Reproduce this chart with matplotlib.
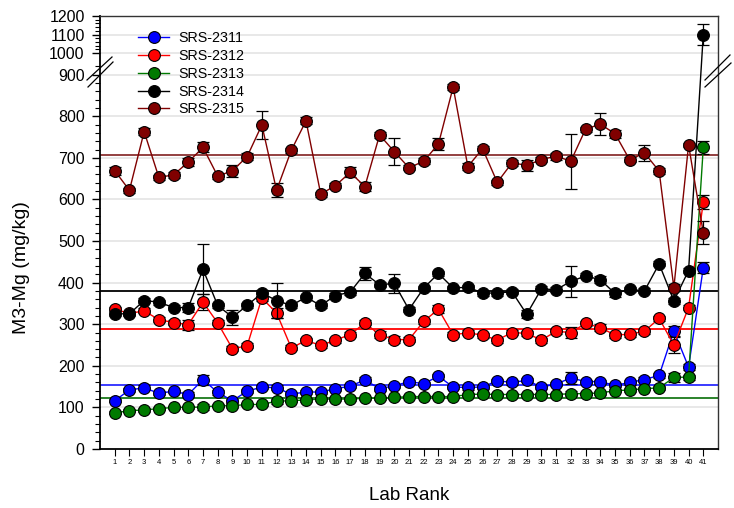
import numpy as np
import matplotlib
matplotlib.use("Agg")
import matplotlib.pyplot as plt
from matplotlib.lines import Line2D

plt.rcParams['font.family'] = ['Liberation Sans', 'DejaVu Sans']

labs = list(range(1, 42))
x_labels = [str(i) for i in labs]

names = ["SRS-2311", "SRS-2312", "SRS-2313", "SRS-2314", "SRS-2315"]
colors = ["#0000ff", "#ff0000", "#007a00", "#000000", "#800000"]
mean_colors = ["#2b2bff", "#ff0000", "#1a7a1a", "#000000", "#8a3030"]

srs2311 = [116, 142, 147, 134, 139, 131, 167, 136, 116, 139, 149, 147, 132, 137, 137, 145, 151, 166, 145, 152, 162,
           157, 175, 149, 148, 149, 164, 160, 165, 149, 156, 171, 162, 162, 153, 160, 167, 177, 284, 197, 436]
srs2312 = [336, 326, 332, 311, 304, 299, 353, 303, 241, 248, 363, 327, 243, 261, 249, 262, 275, 303, 275, 263, 263,
           307, 336, 275, 279, 274, 262, 280, 278, 262, 283, 280, 302, 292, 274, 276, 283, 314, 250, 340, 593]
srs2313 = [87, 92, 94, 97, 100, 100, 101, 104, 104, 107, 107, 115, 116, 118, 120, 120, 120, 122, 122, 124, 126,
           126, 126, 126, 131, 132, 131, 131, 131, 131, 131, 133, 133, 135, 140, 142, 145, 147, 172, 173, 725]
srs2314 = [325, 325, 357, 353, 340, 340, 432, 345, 317, 345, 375, 357, 345, 365, 345, 369, 377, 422, 395, 398, 335,
           387, 422, 387, 389, 375, 375, 378, 324, 385, 383, 403, 416, 407, 374, 384, 380, 445, 356, 429, 1100]
srs2315 = [669, 622, 763, 653, 659, 690, 725, 656, 669, 703, 779, 622, 718, 789, 613, 633, 665, 631, 755, 715, 676,
           692, 733, 870, 679, 722, 641, 688, 682, 696, 704, 692, 769, 781, 758, 695, 712, 668, 388, 731, 520]

sd2311 = [4, 5, 6, 5, 4, 6, 12, 5, 5, 5, 5, 6, 5, 5, 5, 5, 5, 6, 5, 5, 5,
          5, 6, 4, 5, 5, 5, 5, 5, 5, 5, 15, 5, 5, 5, 5, 6, 6, 12, 8, 14]
sd2312 = [6, 5, 6, 6, 6, 12, 19, 6, 6, 6, 6, 13, 6, 6, 6, 6, 6, 6, 8, 8, 6,
          6, 10, 6, 6, 6, 6, 6, 6, 6, 6, 14, 6, 8, 6, 6, 6, 6, 19, 6, 17]
sd2313 = [4, 4, 4, 4, 4, 4, 8, 4, 5, 4, 4, 6, 4, 4, 4, 4, 4, 4, 4, 4, 4,
          4, 4, 4, 4, 4, 4, 4, 4, 4, 4, 6, 4, 4, 4, 4, 4, 4, 10, 6, 15]
sd2314 = [6, 5, 6, 6, 6, 10, 60, 6, 18, 6, 8, 43, 6, 6, 6, 6, 6, 16, 6, 22, 6,
          6, 6, 6, 6, 6, 6, 6, 10, 6, 6, 38, 6, 8, 8, 6, 6, 6, 8, 6, 58]
sd2315 = [10, 6, 8, 6, 7, 10, 12, 6, 14, 8, 33, 17, 6, 8, 6, 6, 12, 10, 8, 33, 6,
          7, 14, 8, 8, 6, 6, 8, 14, 6, 8, 66, 6, 26, 10, 6, 19, 8, 8, 5, 27]

means = [153, 289, 122, 381, 706]

series = [srs2311, srs2312, srs2313, srs2314, srs2315]
sds = [sd2311, sd2312, sd2313, sd2314, sd2315]

major_yticks = [0, 100, 200, 300, 400, 500, 600, 700, 800, 900, 1000, 1100, 1200]


def fwd(y):
    y = np.asarray(y, dtype=float)
    return np.where(y <= 930, y,
                    np.where(y < 1000, 930 + (y - 930) * 22.0 / 70.0,
                             952 + (y - 1000) * 0.445))


def inv(u):
    u = np.asarray(u, dtype=float)
    return np.where(u <= 930, u,
                    np.where(u < 952, 930 + (u - 930) * 70.0 / 22.0,
                             1000 + (u - 952) / 0.445))


W, H = 734, 508
fig = plt.figure(figsize=(W / 100, H / 100), dpi=100)
ax = fig.add_axes([100 / W, 1 - 449 / H, 618 / W, 433 / H])
ax.set_yscale('function', functions=(fwd, inv))
ax.set_ylim(0, 1200)
ax.set_xlim(0, 42)

# grid
for v in major_yticks[1:-1]:
    ax.axhline(v, color='#e4e4e4', lw=1.2, zorder=0)

# mean lines
for m, c in zip(means, mean_colors):
    ax.axhline(m, color=c, lw=1.3, zorder=1.5)

handles = []
for i, (vals, sd, c, n) in enumerate(zip(series, sds, colors, names)):
    ax.errorbar(labs, vals, yerr=sd, fmt='none', ecolor='black', elinewidth=0.9,
                capsize=4, capthick=0.9, zorder=2 + i)
    h, = ax.plot(labs, vals, '-o', color=c, mfc=c, mec='black', ms=8.5, mew=0.8,
                 lw=1.0, zorder=2.5 + i, label=n)
    handles.append(h)

# ticks
ax.set_yticks(major_yticks)
ax.set_yticklabels([str(v) for v in major_yticks], fontsize=11.5)
minor = [v for v in range(0, 940, 20) if v % 100] + [v for v in range(1000, 1200, 20) if v % 100]
ax.set_yticks(minor, minor=True)
ax.set_xticks(labs)
ax.set_xticklabels(x_labels, fontsize=5.5)
ax.tick_params(axis='y', which='major', direction='out', length=6, width=1, pad=5)
ax.tick_params(axis='y', which='minor', direction='out', length=3.5, width=0.8)
ax.tick_params(axis='x', which='major', direction='out', length=5, width=0.8, pad=2.5)

for s in ['left', 'bottom']:
    ax.spines[s].set_linewidth(1.3)
    ax.spines[s].set_color('black')
for s in ['top', 'right']:
    ax.spines[s].set_linewidth(1.0)
    ax.spines[s].set_color('#333333')

ax.set_xlabel('Lab Rank', fontsize=13.5)
ax.xaxis.set_label_coords(0.5, -0.088)
fig.text(22 / W, 1 - 268 / H, 'M3-Mg (mg/kg)', rotation=90, fontsize=14,
         ha='center', va='center')

ax.legend(handles=handles, loc='upper left', bbox_to_anchor=(138 / W, 1 - 31 / H),
          bbox_transform=fig.transFigure, frameon=False, fontsize=10.3,
          handlelength=2.2, handletextpad=0.6, labelspacing=0.27,
          borderaxespad=0, borderpad=0)

# axis break marks
def fig_line(x0, y0, x1, y1):
    fig.add_artist(Line2D([x0 / W, x1 / W], [1 - y0 / H, 1 - y1 / H],
                          transform=fig.transFigure, color='black', lw=0.9))

fig_line(87, 80, 112, 57)
fig_line(88, 87, 113, 62)
fig_line(705, 80, 730, 55)
fig_line(705, 87, 731, 63)

fig.savefig('out.png', dpi=100)
